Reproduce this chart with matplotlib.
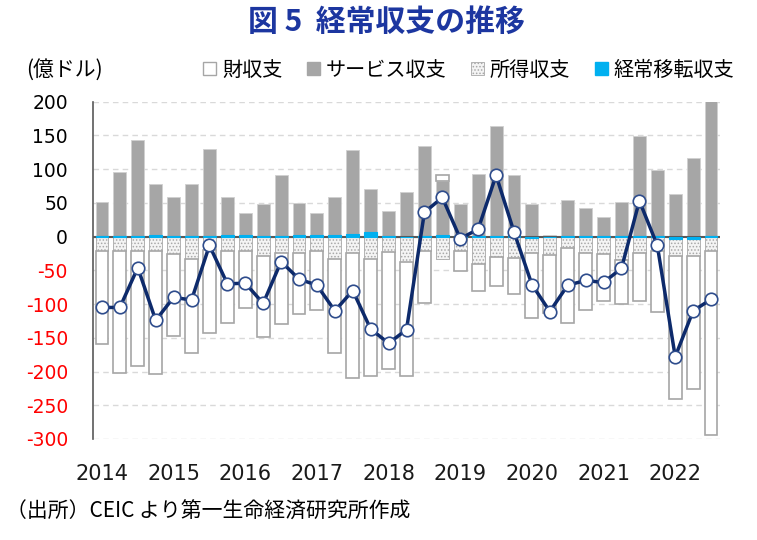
import numpy as np
import matplotlib.pyplot as plt
from matplotlib.patches import Patch

plt.rcParams['font.family'] = ['Noto Sans CJK JP', 'DejaVu Sans']
plt.rcParams['hatch.linewidth'] = 0.7

# quarterly, 2014Q1 - 2022Q3 (100 million USD)
years = ['2014', '2015', '2016', '2017', '2018', '2019', '2020', '2021', '2022']
goods = [-138, -179.5, -170.5, -182, -122, -140, -123.5, -107, -85,
         -119.5, -106, -90, -87.5, -139, -186, -174, -173.5, -168, -76,
         9, -28.5, -41, -43, -53.5, -96, -86, -110.5, -84.5, -70, -66,
         -71, -91, -212, -196.5, -272]
services = [50, 95, 142, 75, 57, 77, 128.5, 55, 32, 47.5, 91, 47, 32, 56,
            123.5, 63.5, 38, 66, 134, 79, 47.5, 92, 162.5, 90, 49, 2, 53,
            42, 28, 50, 148, 98.5, 63, 117, 201]
income = [-21, -22, -21, -21, -26, -33, -20, -21, -21, -29, -24, -24, -22,
          -33, -24, -33, -23, -38, -22, -33, -22, -40, -30, -32, -22, -27,
          -17, -24, -26, -34, -25, -21, -25, -26, -22]
transfers = [1.5, 1, 1.5, 3, 1.5, 0.5, 1.5, 3, 3, 1.5, 0.5, 3, 3, 3, 4.5,
             6.5, 0.5, 0, 0.5, 3, 0.5, 0.5, 1.5, 2, -2, 0, 1.5, 0.5, 0.5,
             1.5, 0.5, 0.5, -4, -3, 0.5]
current = [-105, -105, -46, -124, -90, -94, -13, -70, -69, -99, -37, -63,
           -72, -110, -80, -137, -158, -138, 36, 58, -3, 11, 91, 7, -71,
           -111, -72, -65, -68, -47, 53, -13, -178, -110, -93]

x = np.arange(len(goods))

fig = plt.figure(figsize=(7.57, 5.4), dpi=100)
ax = fig.add_axes([93 / 757, 1 - 439 / 540, (720 - 93) / 757, (439 - 101.7) / 540])

styles = [
    (transfers, dict(color='#00B0F0', edgecolor='#00B0F0', linewidth=0.8, zorder=2.8)),
    (services, dict(color='#A6A6A6', edgecolor='#D0D0D0', linewidth=0.6, zorder=2)),
    (income, dict(facecolor='#F4F4F4', edgecolor='#A8A8A8', hatch='.....',
                  linewidth=0.6, zorder=2)),
    (goods, dict(facecolor='white', edgecolor='#A6A6A6', linewidth=1.2, zorder=2)),
]
pos = np.zeros(len(x))
neg = np.zeros(len(x))
for vals, kw in styles:
    v = np.array(vals, dtype=float)
    bottom = np.where(v >= 0, pos, neg)
    ax.bar(x, v, 0.72, bottom=bottom, **kw)
    pos = pos + np.clip(v, 0, None)
    neg = neg + np.clip(v, None, 0)

ax.plot(x, current, color='#0D2A6B', lw=2.5, marker='o', ms=9,
        mfc='white', mec='#2E4C8C', mew=1.2, zorder=4)

ax.axhline(0, color='#595959', lw=1.5, zorder=2.5)
ax.set_xlim(-0.5, 34.5)
ax.set_ylim(-300, 200)
yt = np.arange(-300, 201, 50)
ax.set_yticks(yt)
ax.set_yticklabels([str(v) for v in yt])
ax.yaxis.grid(True, color='#D9D9D9', ls=(0, (4, 3)), lw=1)
ax.set_axisbelow(True)
for s in ['top', 'right', 'bottom']:
    ax.spines[s].set_visible(False)
ax.spines['left'].set_color('#595959')
ax.spines['left'].set_linewidth(1.2)

ax.tick_params(axis='y', length=0, pad=18)
for lab, v in zip(ax.get_yticklabels(), yt):
    lab.set_fontfamily('DejaVu Sans')
    lab.set_fontsize(13.5)
    lab.set_color('red' if v < 0 else 'black')

ax.set_xticks(np.arange(0, 35, 4))
ax.set_xticklabels(years, fontsize=15, family=['Liberation Sans Narrow', 'DejaVu Sans'],
                   color='#1A1A1A')
ax.tick_params(axis='x', length=0, pad=18)

fig.text(0.51, 1 - 22 / 540, '図 5  経常収支の推移', ha='center', va='center',
         fontsize=21.5, fontweight='bold', color='#1C36A0')
fig.text(26 / 757, 1 - 70 / 540, '(億ドル)', ha='left', va='center', fontsize=15)

handles = [
    Patch(facecolor='white', edgecolor='#A6A6A6', linewidth=1),
    Patch(facecolor='#A6A6A6', edgecolor='#A6A6A6'),
    Patch(facecolor='#F4F4F4', edgecolor='#A8A8A8', hatch='.....', linewidth=0.6),
    Patch(facecolor='#00B0F0', edgecolor='#00B0F0'),
]
labels = ['財収支', 'サービス収支', '所得収支', '経常移転収支']
fig.legend(handles, labels, ncol=4, loc='center left',
           bbox_to_anchor=(195 / 757, 1 - 70 / 540), frameon=False,
           fontsize=14.5, handlelength=0.65, handleheight=0.65,
           handletextpad=0.3, columnspacing=1.2, borderaxespad=0)

fig.text(6 / 757, 1 - 512 / 540, '（出所）CEIC より第一生命経済研究所作成',
         ha='left', va='center', fontsize=15)

fig.savefig('out.png', dpi=100)
